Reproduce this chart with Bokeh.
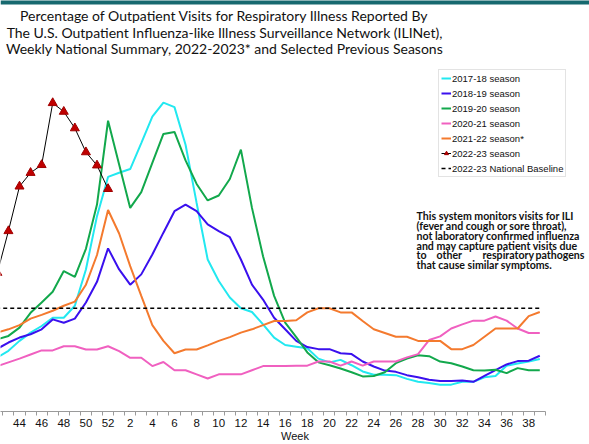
from bokeh.plotting import figure
from bokeh.models import Range1d, FixedTicker, Label, Legend, LegendItem
from bokeh.embed import file_html
from bokeh.resources import INLINE

# ---------------- data ----------------
WEEKS = list(range(40, 53)) + list(range(1, 40))

S2017_18 = [1.25, 1.28, 1.31, 1.47, 1.71, 1.91, 2.07, 2.27, 2.27, 2.56, 3.44, 4.73, 5.68,
            5.78, 5.87, 6.50, 7.14, 7.48, 7.37, 6.46, 5.05, 3.68, 3.16, 2.76, 2.50, 2.41,
            2.11, 1.79, 1.61, 1.57, 1.53, 1.28, 1.19, 1.25, 1.12, 0.97, 0.89, 0.89, 0.88,
            0.79, 0.72, 0.69, 0.65, 0.65, 0.72, 0.72, 0.83, 0.86, 1.11, 1.16, 1.21, 1.27]
S2018_19 = [1.45, 1.48, 1.52, 1.67, 1.79, 1.87, 1.99, 2.23, 2.15, 2.25, 2.64, 3.14, 3.95,
            3.44, 3.07, 3.32, 3.80, 4.33, 4.85, 5.01, 4.85, 4.53, 4.37, 4.22, 3.68, 3.07,
            2.71, 2.27, 1.99, 1.71, 1.56, 1.51, 1.51, 1.41, 1.39, 1.21, 1.09, 0.99, 0.96,
            0.88, 0.83, 0.77, 0.74, 0.74, 0.75, 0.72, 0.86, 1.00, 1.14, 1.22, 1.23, 1.35]
S2019_20 = [1.65, 1.70, 1.75, 1.83, 2.03, 2.39, 2.64, 2.90, 3.40, 3.26, 3.94, 5.01, 7.04,
            5.98, 4.93, 5.31, 6.02, 6.72, 6.77, 6.08, 5.51, 5.11, 5.23, 5.63, 6.34, 4.93,
            3.76, 2.80, 2.15, 1.80, 1.43, 1.19, 1.12, 1.04, 0.95, 0.85, 0.86, 0.95, 1.17,
            1.28, 1.36, 1.34, 1.21, 1.17, 1.09, 1.00, 0.99, 1.01, 0.93, 1.05, 1.00, 1.00]
S2020_21 = [1.05, 1.08, 1.10, 1.19, 1.28, 1.38, 1.48, 1.48, 1.58, 1.58, 1.50, 1.50, 1.58,
            1.46, 1.30, 1.30, 1.10, 1.20, 1.00, 1.00, 0.90, 0.80, 0.90, 0.90, 0.90, 1.00,
            1.10, 1.10, 1.10, 1.11, 1.11, 1.21, 1.21, 1.11, 1.21, 1.11, 1.21, 1.21, 1.21,
            1.31, 1.39, 1.73, 1.82, 2.01, 2.11, 2.20, 2.20, 2.30, 2.20, 2.01, 1.90, 1.90]
S2021_22 = [1.80, 1.85, 1.91, 1.99, 2.09, 2.25, 2.34, 2.44, 2.56, 2.66, 3.07, 3.79, 4.88,
            4.31, 3.52, 2.80, 2.09, 1.71, 1.41, 1.50, 1.50, 1.60, 1.71, 1.80, 1.91, 1.99,
            2.09, 2.19, 2.19, 2.21, 2.40, 2.50, 2.50, 2.40, 2.40, 2.19, 1.99, 1.90, 1.81,
            1.81, 1.71, 1.71, 1.71, 1.51, 1.51, 1.61, 1.81, 2.01, 2.01, 2.01, 2.31, 2.41]
S2022_23 = [2.60, 2.95, 3.36, 4.37, 5.45, 5.78, 5.97, 7.47, 7.26, 6.86, 6.28, 5.96, 5.39]
BASELINE = 2.5

SERIES = [
    ("2017-18 season", S2017_18, "#22e8f0"),
    ("2018-19 season", S2018_19, "#3a10ee"),
    ("2019-20 season", S2019_20, "#12a84c"),
    ("2020-21 season", S2020_21, "#f060c0"),
    ("2021-22 season*", S2021_22, "#f47a2e"),
]

TITLE_LINES = [
    "Percentage of Outpatient Visits for Respiratory Illness Reported By",
    "The U.S. Outpatient Influenza-like Illness Surveillance Network (ILINet),",
    "Weekly National Summary, 2022-2023* and Selected Previous Seasons",
]
NOTE_LINES = [
    "This system monitors visits for ILI",
    "(fever and cough or sore throat),",
    "not laboratory confirmed influenza",
    "and may capture patient visits due",
    None,
    "that cause similar symptoms.",
]
NOTE_JUSTIFIED = ["to", "other", "respiratory", "pathogens"]
X_LABEL = "Week"

idx = list(range(len(WEEKS)))

# ---------------- geometry helpers (pixel -> data) ----------------
PX_PER_WEEK = 11.07
PX_PER_PCT = 41.4
def sx(px):
    return 4 + (px - 19) / PX_PER_WEEK
def sy(py):
    return (412 - py) / PX_PER_PCT

W, H = 589, 444
p = figure(width=W, height=H, output_backend="svg", toolbar_location=None,
           x_range=Range1d(sx(0), sx(W)), y_range=Range1d(0, sy(0)),
           y_axis_location=None, min_border_left=0, min_border_right=0,
           min_border_top=0, min_border_bottom=32, outline_line_color=None)
p.xgrid.visible = False
p.ygrid.visible = False
p.background_fill_color = "white"
p.border_fill_color = "white"

# teal band at top (decorative strip across full width)
p.hstrip(y0=[sy(4)], y1=[sy(-4)], fill_color="#17696f", line_color=None)

# x axis
ax = p.xaxis[0]
major = [i for i, w in zip(idx, WEEKS) if w % 2 == 0]
minor = [i - 0.5 for i in idx] + [idx[-1] + 0.5]
ax.ticker = FixedTicker(ticks=major, minor_ticks=minor)
ax.major_label_overrides = {i: str(WEEKS[i]) for i in major}
ax.bounds = (-0.5, idx[-1] + 0.5)
ax.axis_line_color = "#9a9a9a"
ax.major_tick_out = 0
ax.major_tick_in = 0
ax.minor_tick_out = 4
ax.minor_tick_in = 0
ax.minor_tick_line_color = "#9a9a9a"
ax.major_label_standoff = 3
ax.major_label_text_font = "Liberation Sans"
ax.major_label_text_font_size = "11.5px"
ax.major_label_text_color = "#111111"
ax.axis_label = X_LABEL
ax.axis_label_standoff = 0
ax.axis_label_text_font = "Liberation Sans"
ax.axis_label_text_font_size = "11px"
ax.axis_label_text_font_style = "normal"
ax.axis_label_text_color = "#111111"

# lines
items = []
for name, vals, col in SERIES:
    r = p.line(idx, vals, line_color=col, line_width=2)
    items.append(LegendItem(label=name, renderers=[r]))

r_cur = p.line(idx[:len(S2022_23)], S2022_23, line_color="black", line_width=1)
r_tri = p.scatter(idx[:len(S2022_23)], S2022_23, marker="triangle", size=9,
                  fill_color="#c00000", line_color="#a00000")
items.append(LegendItem(label="2022-23 season", renderers=[r_cur, r_tri]))

r_base = p.line(idx, [BASELINE] * len(idx), line_color="black", line_width=1.5,
                line_dash="4 3")
items.append(LegendItem(label="2022-23 National Baseline", renderers=[r_base]))

legend = Legend(items=items, location=(438, 234), glyph_width=10, glyph_height=12,
                label_height=12, label_standoff=1, spacing=3, padding=2, margin=0,
                label_text_font="Liberation Sans", label_text_font_size="9.5px",
                label_text_color="#111111", border_line_color="#c8c8c8",
                background_fill_alpha=1)
p.add_layout(legend)

# title
for k, t in enumerate(TITLE_LINES):
    p.add_layout(Label(x=sx(224), y=sy(15.5 + 16.5 * k), text=t, text_align="center",
                       text_baseline="middle", text_font="Lato", text_font_size="14px",
                       text_color="#111111"))

# note
NOTE_FONT = "10.6px"
for k, t in enumerate(NOTE_LINES):
    if t is None:
        continue
    p.add_layout(Label(x=sx(416), y=sy(216.5 + 9.7 * k), text=t, text_align="left",
                       text_baseline="middle", text_font="Lato", text_font_size=NOTE_FONT,
                       text_font_style="bold", text_color="#111111"))
for wd, px, al in zip(NOTE_JUSTIFIED, [416, 436, 482, 584],
                      ["left", "left", "left", "right"]):
    p.add_layout(Label(x=sx(px), y=sy(216.5 + 9.7 * 4), text=wd, text_align=al,
                       text_baseline="middle", text_font="Lato", text_font_size=NOTE_FONT,
                       text_font_style="bold", text_color="#111111"))

open("out.html", "w").write(file_html(p, INLINE))
